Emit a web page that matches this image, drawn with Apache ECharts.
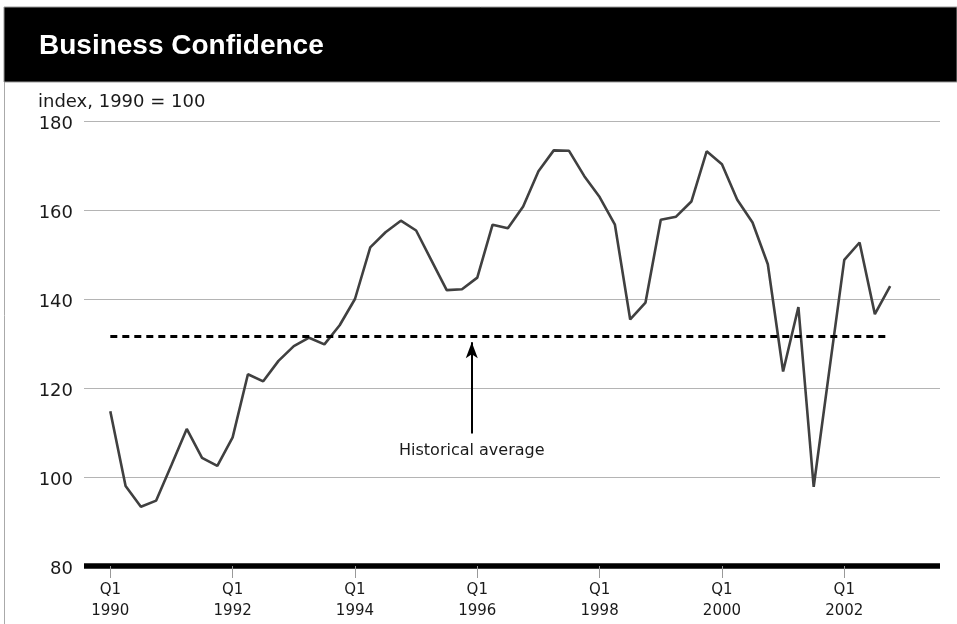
<!DOCTYPE html>
<html>
<head>
<meta charset="utf-8">
<title>Business Confidence</title>
<script src="https://cdn.jsdelivr.net/npm/echarts@6/dist/echarts.min.js"></script>
<style>
  html, body { margin: 0; padding: 0; background: #fff; }
  #chart { width: 957px; height: 624px; }
</style>
</head>
<body>
<div id="chart"></div>
<script>
// quarterly index, 1990 Q1 .. 2002 Q4
var values = [
    114.8, 98.0, 93.3, 94.7,
    102.7, 110.8, 104.3, 102.5,
    108.9, 123.1, 121.5, 126.1,
    129.4, 131.3, 129.8, 134.1,
    140.0, 151.6, 155.0, 157.6,
    155.4, 148.7, 142.0, 142.2,
    144.8, 156.7, 155.9, 160.8,
    168.7, 173.4, 173.3, 167.6,
    162.9, 156.7, 135.4, 139.2,
    157.8, 158.5, 161.9, 173.2,
    170.3, 162.3, 157.2, 147.8,
    123.7, 138.2, 97.8, 123.4,
    148.8, 152.7, 136.6, 142.9
];
var tickPositions = [0, 8, 16, 24, 32, 40, 48];
var tickLabels = ['Q1\n1990', 'Q1\n1992', 'Q1\n1994', 'Q1\n1996', 'Q1\n1998', 'Q1\n2000', 'Q1\n2002'];
var historicalAverage = 131.7;
var yTicks = [80, 100, 120, 140, 160, 180];

var lineData = [];
for (var i = 0; i < values.length; i++) {
    lineData.push([i, values[i]]);
}

var myChart = echarts.init(document.getElementById('chart'));
var txtFont = 'DejaVu Sans';

var option = {
    animation: false,
    backgroundColor: '#fff',
    graphic: [
        // frame + black title bar
        { type: 'line', shape: { x1: 4.5, y1: 7, x2: 4.5, y2: 624 }, style: { stroke: '#aaa', lineWidth: 1 } },
        { type: 'rect', shape: { x: 4, y: 7, width: 953, height: 75 }, style: { fill: '#000', stroke: '#999', lineWidth: 1 } },
        { type: 'text', left: 39, top: 32, style: { text: 'Business Confidence', fill: '#fff', font: 'bold 28px "Liberation Sans", Arial, sans-serif' } },
        { type: 'text', left: 38, top: 93, style: { text: 'index, 1990 = 100', fill: '#1a1a1a', font: '18px "' + txtFont + '", sans-serif' } }
    ],
    grid: { left: 84, right: 17, top: 121, bottom: 58 },
    xAxis: {
        type: 'value',
        min: -1.72,
        max: 54.26,
        splitLine: { show: false },
        axisLine: { onZero: false, lineStyle: { color: '#000', width: 5.5, cap: 'butt' } },
        axisTick: { customValues: tickPositions, length: 12, lineStyle: { color: '#999', width: 1 } },
        axisLabel: {
            customValues: tickPositions,
            formatter: function (v) {
                return tickLabels[tickPositions.indexOf(Math.round(v))] || '';
            },
            margin: 14,
            fontFamily: txtFont,
            fontSize: 15,
            lineHeight: 21,
            color: '#1a1a1a'
        }
    },
    yAxis: {
        type: 'value',
        min: yTicks[0],
        max: yTicks[yTicks.length - 1],
        interval: 20,
        axisLine: { show: false },
        axisTick: { show: false },
        splitLine: { lineStyle: { color: '#b4b4b4', width: 1 } },
        axisLabel: {
            margin: 11,
            fontFamily: txtFont,
            fontSize: 18,
            color: '#1a1a1a',
            verticalAlign: 'top',
            lineHeight: 7
        }
    },
    series: [{
        type: 'line',
        data: lineData,
        showSymbol: false,
        symbol: 'none',
        lineStyle: { color: '#404040', width: 2.6 },
        z: 3,
        markLine: {
            silent: true,
            animation: false,
            symbol: 'none',
            data: [
                // historical average
                [
                    { coord: [0, historicalAverage], symbol: 'none', lineStyle: { color: '#000', width: 3, type: [7, 5] }, label: { show: false } },
                    { coord: [values.length - 1, historicalAverage], symbol: 'none' }
                ],
                // arrow pointing at it
                [
                    { coord: [23.64, 109.8], symbol: 'none', lineStyle: { color: '#000', width: 2, type: 'solid' },
                      label: { show: true, position: 'start', distance: 9, formatter: 'Historical average', fontFamily: txtFont, fontSize: 16, color: '#1a1a1a' } },
                    { coord: [23.64, 130.3], symbol: 'arrow', symbolSize: [9, 16] }
                ]
            ]
        }
    }]
};

myChart.setOption(option);
</script>
</body>
</html>
